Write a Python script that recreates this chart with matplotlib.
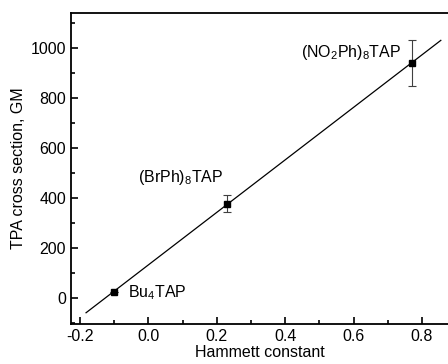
import numpy as np
import matplotlib.pyplot as plt
from matplotlib.ticker import MultipleLocator

plt.rcParams['font.family'] = ['Liberation Sans', 'DejaVu Sans']
plt.rcParams['mathtext.fontset'] = 'custom'
plt.rcParams['mathtext.rm'] = 'Liberation Sans'

# data
hammett = [-0.10, 0.23, 0.77]
tpa = [25, 377, 940]
tpa_err = [0, 35, 93]
names = ['Bu$_\\mathrm{4}$TAP', '(BrPh)$_\\mathrm{8}$TAP', '(NO$_\\mathrm{2}$Ph)$_\\mathrm{8}$TAP']
label_x = [-0.06, -0.03, 0.446]
label_y = [20, 480, 980]

# linear fit through the points
slope, icpt = np.polyfit(hammett, tpa, 1)
fit_x = np.array([-0.182, 0.855])

fig = plt.figure(figsize=(4.48, 3.64), dpi=100)
ax = fig.add_axes([71 / 448, 1 - 323.7 / 364, 377 / 448, 310.7 / 364])

ax.plot(fit_x, slope * fit_x + icpt, color='black', lw=0.9)
ax.errorbar(hammett, tpa, yerr=tpa_err, fmt='s', color='black', ms=5,
            elinewidth=0.8, capsize=3, capthick=0.8, ecolor='0.25')

for t, lx, ly in zip(names, label_x, label_y):
    ax.text(lx, ly, t, fontsize=11.5, va='center', ha='left')

ax.set_xlim(-0.226, 0.876)
ax.set_ylim(-103, 1140)
ax.xaxis.set_major_locator(MultipleLocator(0.2))
ax.xaxis.set_minor_locator(MultipleLocator(0.1))
ax.yaxis.set_major_locator(MultipleLocator(200))
ax.yaxis.set_minor_locator(MultipleLocator(100))
ax.tick_params(which='both', direction='in', top=False, right=False,
               labelsize=11.5, width=1.2)
ax.tick_params(which='major', length=5)
ax.tick_params(which='minor', length=3)
ax.set_xticks([-0.2, 0.0, 0.2, 0.4, 0.6, 0.8])
ax.set_xticklabels(['-0.2', '0.0', '0.2', '0.4', '0.6', '0.8'])
for s in ['left', 'bottom', 'top']:
    ax.spines[s].set_linewidth(1.3)
ax.spines['right'].set_visible(False)

ax.set_xlabel('Hammett constant', fontsize=11.5, labelpad=1)
ax.set_ylabel('TPA cross section, GM', fontsize=11.5, labelpad=3)

fig.savefig('out.png', dpi=100)
